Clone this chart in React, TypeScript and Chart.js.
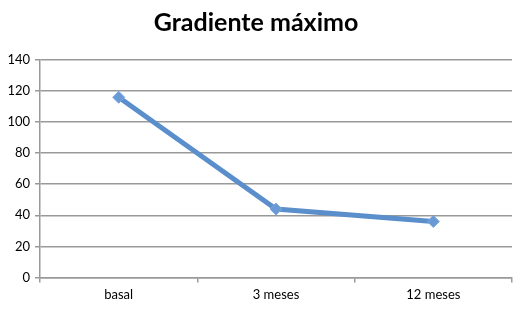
import React, { useEffect, useRef } from "react";
import { Chart, registerables } from "chart.js";

Chart.register(...registerables);

const titleText = "Gradiente máximo";
const categories = ["basal", "3 meses", "12 meses"];
const values = [116, 44, 36];
const yTicksMax = 140;
const yStep = 20;

export default function App() {
  const ref = useRef<HTMLCanvasElement>(null);
  useEffect(() => {
    document.body.style.margin = "0";
    const ctx = ref.current!;
    const chart = new Chart(ctx, {
      type: "line",
      data: {
        labels: categories,
        datasets: [
          {
            data: values,
            borderColor: "#5b8fcc",
            backgroundColor: "#6a9ad6",
            borderWidth: 5,
            pointStyle: "rectRot",
            pointRadius: 6,
            pointBorderWidth: 1,
            pointBorderColor: "#7aa7dd",
            tension: 0,
          },
        ],
      },
      options: {
        animation: false,
        responsive: false,
        devicePixelRatio: 1,
        layout: { padding: { left: 0, right: 9, top: 8, bottom: 4 } },
        plugins: {
          legend: { display: false },
          tooltip: { enabled: false },
          title: {
            display: true,
            text: titleText,
            color: "#000",
            font: { family: "Lato", size: 25, weight: "bold" },
            padding: { top: 0, bottom: 22 },
          },
        },
        scales: {
          x: {
            offset: true,
            grid: {
              display: true,
              drawOnChartArea: false,
              drawTicks: true,
              offset: true,
              tickLength: 5,
              color: "#999",
              lineWidth: 1.5,
            },
            border: { display: true, color: "#999", width: 1.5 },
            ticks: {
              color: "#000",
              font: { family: "Lato", size: 13 },
              padding: 5,
            },
          },
          y: {
            min: 0,
            max: yTicksMax,
            afterFit: (s: any) => {
              s.width = 40;
            },
            grid: {
              color: "#999",
              lineWidth: 1.5,
              tickLength: 5,
            },
            border: { display: true, color: "#999", width: 1.5 },
            ticks: {
              stepSize: yStep,
              color: "#000",
              font: { family: "Lato", size: 13 },
              padding: 5,
            },
          },
        },
      },
    });
    return () => chart.destroy();
  }, []);
  return <canvas ref={ref} width={521} height={312} style={{ display: "block" }} />;
}
